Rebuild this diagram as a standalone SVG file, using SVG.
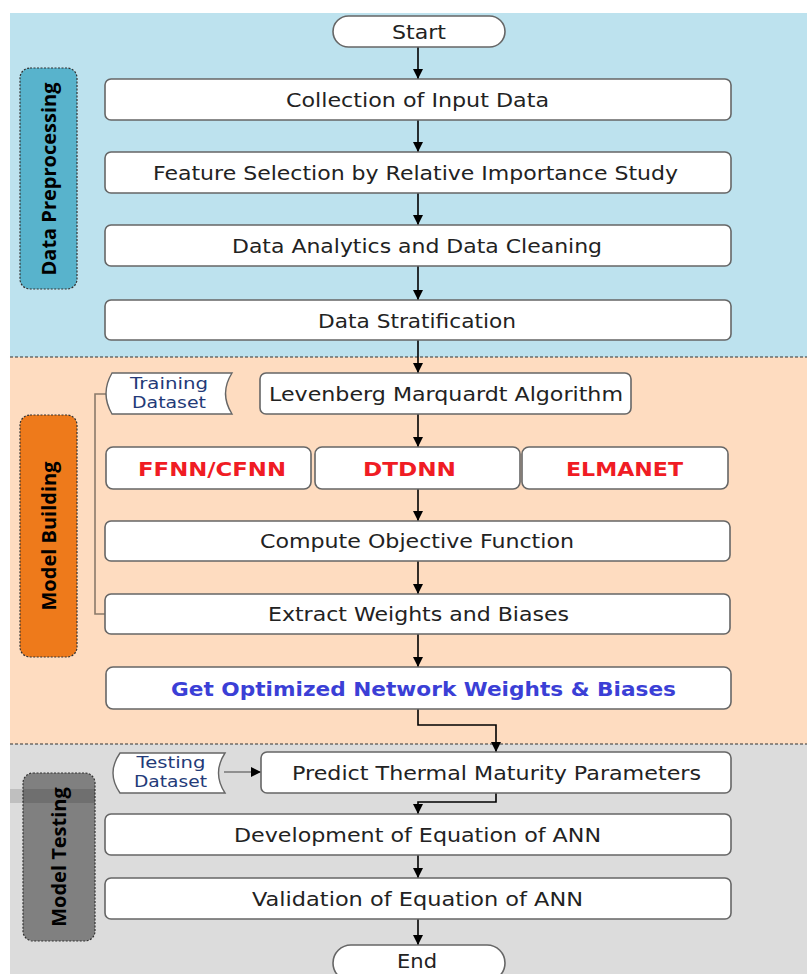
<svg xmlns="http://www.w3.org/2000/svg" width="807" height="974" viewBox="0 0 807 974">
<defs>
<marker id="ah" viewBox="0 0 10 10" refX="10" refY="5" markerWidth="10" markerHeight="10" markerUnits="userSpaceOnUse" orient="auto">
<path d="M0,0 L10,5 L0,10 Z" fill="#000"/>
</marker>
<style>
.box{fill:#fff;stroke:#666;stroke-width:1.6}
.t{font-family:"DejaVu Sans",Verdana,sans-serif;font-size:20px;fill:#222;text-anchor:middle;dominant-baseline:central}
.b{font-family:"DejaVu Sans",Verdana,sans-serif;font-size:20px;font-weight:bold;text-anchor:middle;dominant-baseline:central}
.red{fill:#f01c24}
.blue{fill:#3b3fd6}
.ds{font-family:"DejaVu Sans",Verdana,sans-serif;font-size:15.5px;fill:#233a78;text-anchor:middle;dominant-baseline:central}
.side{font-family:"Open Sans","Liberation Sans",sans-serif;font-size:20px;font-weight:bold;fill:#000;text-anchor:middle;dominant-baseline:central}
.lab{stroke:#333;stroke-width:1.2;stroke-dasharray:2,1.5}
.c{fill:none;stroke:#000;stroke-width:1.6}
.sep{stroke:#333;stroke-width:1.2;stroke-dasharray:3,2}
</style>
</defs>
<rect x="0" y="0" width="807" height="974" fill="#fff"/>
<rect x="10" y="13" width="797" height="344" fill="#bde2ee"/>
<rect x="10" y="357" width="797" height="387" fill="#fedcc0"/>
<rect x="10" y="744" width="797" height="230" fill="#dcdcdc"/>
<line class="sep" x1="10" y1="357" x2="807" y2="357"/>
<line class="sep" x1="10" y1="744" x2="807" y2="744"/>

<g id="lbl-preprocessing">
<rect class="lab" x="20" y="68" width="57" height="221" rx="10" fill="#58b3cc"/>
<text class="side" transform="translate(48,179) rotate(-90)">Data Preprocessing</text>
</g>
<g id="lbl-building">
<rect class="lab" x="20" y="415" width="57" height="242" rx="10" fill="#ee7a1b"/>
<text class="side" transform="translate(48,536) rotate(-90)">Model Building</text>
</g>
<g id="lbl-testing">
<rect class="lab" x="23" y="773" width="72" height="168" rx="10" fill="#808080"/>
<rect x="10" y="789" width="85" height="14" fill="#000" opacity="0.13"/>
<text class="side" transform="translate(58,857) rotate(-90)">Model Testing</text>
</g>

<g id="connectors">
<line class="c" x1="418" y1="47" x2="418" y2="79" marker-end="url(#ah)"/>
<line class="c" x1="418" y1="120" x2="418" y2="152" marker-end="url(#ah)"/>
<line class="c" x1="418" y1="193" x2="418" y2="225" marker-end="url(#ah)"/>
<line class="c" x1="418" y1="266" x2="418" y2="300" marker-end="url(#ah)"/>
<line class="c" x1="418" y1="340" x2="418" y2="373" marker-end="url(#ah)"/>
<line class="c" x1="418" y1="414" x2="418" y2="447" marker-end="url(#ah)"/>
<line class="c" x1="418" y1="489" x2="418" y2="521" marker-end="url(#ah)"/>
<line class="c" x1="418" y1="561" x2="418" y2="594" marker-end="url(#ah)"/>
<line class="c" x1="418" y1="634" x2="418" y2="667" marker-end="url(#ah)"/>
<polyline class="c" points="418,709 418,725 496,725 496,752" marker-end="url(#ah)"/>
<line class="c" x1="224" y1="772" x2="261" y2="772" marker-end="url(#ah)" style="stroke:#444;stroke-width:1.2"/>
<polyline class="c" points="496,793 496,802 418,802 418,814" marker-end="url(#ah)"/>
<line class="c" x1="418" y1="855" x2="418" y2="878" marker-end="url(#ah)"/>
<line class="c" x1="418" y1="919" x2="418" y2="945" marker-end="url(#ah)"/>
<polyline points="106,394 95,394 95,614 105,614" fill="none" stroke="#8a7a6a" stroke-width="1.6"/>
</g>

<g id="start">
<rect class="box" x="333" y="16" width="172" height="31" rx="15.5"/>
<text class="t" x="419" y="31.5" textLength="54" lengthAdjust="spacingAndGlyphs">Start</text>
</g>
<g id="collection">
<rect class="box" x="105" y="79" width="626" height="41" rx="6"/>
<text class="t" x="417.5" y="100" textLength="263" lengthAdjust="spacingAndGlyphs">Collection of Input Data</text>
</g>
<g id="feature">
<rect class="box" x="105" y="152" width="626" height="41" rx="6"/>
<text class="t" x="415.5" y="173" textLength="525" lengthAdjust="spacingAndGlyphs">Feature Selection by Relative Importance Study</text>
</g>
<g id="analytics">
<rect class="box" x="105" y="225" width="626" height="41" rx="6"/>
<text class="t" x="417" y="246" textLength="370" lengthAdjust="spacingAndGlyphs">Data Analytics and Data Cleaning</text>
</g>
<g id="stratification">
<rect class="box" x="105" y="300" width="626" height="40" rx="6"/>
<text class="t" x="417" y="320.5" textLength="198" lengthAdjust="spacingAndGlyphs">Data Stratification</text>
</g>
<g id="training">
<path d="M112,373 L232,373 Q219,393.5 232,414 L112,414 Q100,393.5 112,373 Z" fill="#fff" stroke="#666" stroke-width="1.4"/>
<text class="ds" x="169" y="383.5" textLength="78" lengthAdjust="spacingAndGlyphs">Training</text>
<text class="ds" x="169" y="403" textLength="74" lengthAdjust="spacingAndGlyphs">Dataset</text>
</g>
<g id="levenberg">
<rect class="box" x="260" y="373" width="371" height="41" rx="6"/>
<text class="t" x="446" y="393.5" textLength="354" lengthAdjust="spacingAndGlyphs">Levenberg Marquardt Algorithm</text>
</g>
<g id="ffnn">
<rect class="box" x="106" y="447" width="205" height="42" rx="7"/>
<text class="b red" x="212" y="468.5" textLength="148" lengthAdjust="spacingAndGlyphs">FFNN/CFNN</text>
</g>
<g id="dtdnn">
<rect class="box" x="315" y="447" width="205" height="42" rx="7"/>
<text class="b red" x="409.5" y="468.5" textLength="93" lengthAdjust="spacingAndGlyphs">DTDNN</text>
</g>
<g id="elmanet">
<rect class="box" x="522" y="447" width="206" height="42" rx="7"/>
<text class="b red" x="624.5" y="468.5" textLength="117" lengthAdjust="spacingAndGlyphs">ELMANET</text>
</g>
<g id="objective">
<rect class="box" x="105" y="521" width="625" height="40" rx="6"/>
<text class="t" x="417" y="541" textLength="314" lengthAdjust="spacingAndGlyphs">Compute Objective Function</text>
</g>
<g id="extract">
<rect class="box" x="105" y="594" width="625" height="40" rx="6"/>
<text class="t" x="418.5" y="614" textLength="301" lengthAdjust="spacingAndGlyphs">Extract Weights and Biases</text>
</g>
<g id="optimized">
<rect class="box" x="106" y="667" width="625" height="42" rx="7"/>
<text class="b blue" x="423.5" y="688.5" textLength="505" lengthAdjust="spacingAndGlyphs">Get Optimized Network Weights &amp; Biases</text>
</g>
<g id="testing">
<path d="M120,753 L225,753 Q212,773 225,793 L120,793 Q106,773 120,753 Z" fill="#fff" stroke="#666" stroke-width="1.4"/>
<text class="ds" x="171" y="763" textLength="69" lengthAdjust="spacingAndGlyphs">Testing</text>
<text class="ds" x="170.5" y="782" textLength="73" lengthAdjust="spacingAndGlyphs">Dataset</text>
</g>
<g id="predict">
<rect class="box" x="261" y="752" width="470" height="41" rx="6"/>
<text class="t" x="496.5" y="772.5" textLength="409" lengthAdjust="spacingAndGlyphs">Predict Thermal Maturity Parameters</text>
</g>
<g id="development">
<rect class="box" x="105" y="814" width="626" height="41" rx="6"/>
<text class="t" x="417.5" y="834.5" textLength="367" lengthAdjust="spacingAndGlyphs">Development of Equation of ANN</text>
</g>
<g id="validation">
<rect class="box" x="105" y="878" width="626" height="41" rx="6"/>
<text class="t" x="417.5" y="898.5" textLength="331" lengthAdjust="spacingAndGlyphs">Validation of Equation of ANN</text>
</g>
<g id="end">
<rect class="box" x="333" y="945" width="172" height="36" rx="18"/>
<text class="t" x="417" y="961" textLength="40" lengthAdjust="spacingAndGlyphs">End</text>
</g>
</svg>
